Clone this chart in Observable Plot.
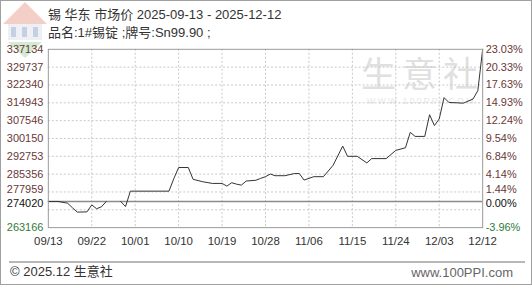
<!DOCTYPE html>
<html><head><meta charset="utf-8">
<script src="https://cdn.jsdelivr.net/npm/d3@7"></script>
<script src="https://cdn.jsdelivr.net/npm/@observablehq/plot@0.6"></script>
<style>
body{margin:0;background:#fff;}
#wrap{position:relative;width:532px;height:285px;overflow:hidden;background:#fff;box-sizing:border-box;border:1px solid #a0a0a0;font-family:"Liberation Sans","Noto Sans CJK SC",sans-serif;}
#wrap svg{position:absolute;left:-1px;top:-1px;}
.t{position:absolute;white-space:nowrap;color:#333;line-height:1.2;}
#title{left:47px;top:6px;font-size:13px;}
#sub{left:47px;top:24px;font-size:13px;}
#sep{position:absolute;left:8px;top:260px;width:516px;height:2px;background:#b8b8b8;}
#foot{left:9px;top:263px;font-size:13px;}
#site{right:18px;top:264px;font-size:13px;color:#666;}
#wm{position:absolute;left:360px;top:53px;font-size:35px;line-height:1;letter-spacing:6px;color:#e0e0e0;font-family:"Noto Sans CJK SC",sans-serif;}
#wm2{position:absolute;left:366px;top:96px;font-size:9px;line-height:1;letter-spacing:2px;color:#e8e8e8;}
#logo{position:absolute;left:295px;top:51px;}
</style></head><body>
<div id="wrap">
  <svg id="logo" width="50" height="60" viewBox="0 0 50 60">
    <polygon points="25,2 47,24 3,24" fill="#f4cfc8"/>
    <rect x="8" y="24" width="34" height="16" fill="#eef0f4"/>
    <rect x="11" y="27" width="5" height="10" fill="#c6d0e4"/>
    <rect x="22" y="27" width="5" height="10" fill="#c6d0e4"/>
    <rect x="33" y="27" width="5" height="10" fill="#c6d0e4"/>
    <polygon points="8,42 42,42 25,58" fill="#d5ead3"/>
  </svg>
  <div id="wm">生意社</div>
  <div id="wm2">WWW.100PPI.COM</div>
  <div class="t" id="title">锡 华东 市场价 2025-09-13 - 2025-12-12</div>
  <div class="t" id="sub">品名:1#锡锭 ;牌号:Sn99.90 ;</div>
  <div id="sep"></div>
  <div class="t" id="foot">© 2025.12 生意社</div>
  <div class="t" id="site">www.100PPI.com</div>
</div>
<script>
// ---- data ----
const dates = ["09-13","09-15","09-17","09-18","09-19","09-21","09-22","09-23","09-24","09-25","09-26",
  "09-28","09-29","09-30","10-08","10-09","10-10","10-12","10-13","10-15","10-17","10-19","10-20",
  "10-21","10-22","10-23","10-24","10-26","10-27","10-28","10-29","10-30","11-01","11-03","11-04",
  "11-05","11-07","11-09","11-11","11-13","11-14","11-16","11-18","11-19","11-22","11-24","11-26",
  "11-27","11-28","11-30","12-01","12-02","12-03","12-04","12-05","12-08","12-10","12-11","12-12"];
const prices = [274020,274020,273300,271400,269600,269700,272600,271000,271800,274000,null,
  274000,271900,278300,278300,283500,288100,288100,283200,282200,281500,281500,280400,
  281800,281200,280800,282500,282800,283600,284300,285400,284700,284700,285600,285600,
  282900,284300,284300,289000,297000,292750,292750,290000,291800,291800,295200,296300,
  302700,301000,301000,310000,305500,308250,317100,315100,314800,316500,320000,337134];
const yTickValues = [337134,329737,322340,314943,307546,300150,292753,285356,277959,274020,263166];
const pctLabels = ["23.03%","20.33%","17.63%","14.93%","12.24%","9.54%","6.84%","4.14%","1.44%","0.00%","-3.96%"];
const gridValues = [329737,322340,314943,307546,300150,292753,285356,277959,270562];
const baseValue = 274020;
const xTickLabels = ["09/13","09/22","10/01","10/10","10/19","10/28","11/06","11/15","11/24","12/03","12/12"];

const parse = s => new Date("2025-" + s + "T00:00:00Z");
const series = dates.map((d, i) => ({date: parse(d), price: prices[i]}));
const xTicks = xTickLabels.map(l => ({date: parse(l.replace("/", "-")), label: l}));
const yTicks = yTickValues.map((v, i) => ({v, label: String(v), pct: pctLabels[i],
  color: v > baseValue ? "#6a3838" : v === baseValue ? "#111111" : "#2f7d3a"}));

const near = 277959;
const labelSet = (filter, dy) => [
  Plot.text(yTicks, {filter, y: "v", text: "label", frameAnchor: "left", textAnchor: "end", dx: -5, dy, fill: "color", fontSize: 11}),
  Plot.text(yTicks, {filter, y: "v", text: "pct", frameAnchor: "right", textAnchor: "start", dx: 3, dy, fill: "color", fontSize: 11})
];

const chart = Plot.plot({
  width: 532, height: 262,
  marginTop: 49, marginBottom: 34, marginLeft: 48, marginRight: 48,
  style: {background: "transparent", fontFamily: "Liberation Sans, sans-serif", fontSize: "11px", overflow: "visible"},
  x: {type: "utc", domain: [parse("09-13"), parse("12-12")], axis: null},
  y: {domain: [263166, 337134], axis: null},
  marks: [
    Plot.ruleY(gridValues, {stroke: "#c8c8c8", strokeDasharray: "2,2"}),
    Plot.ruleX(xTicks.slice(1, -1), {x: "date", stroke: "#c8c8c8", strokeDasharray: "2,2"}),
    Plot.ruleY([baseValue], {stroke: "#8c8c8c", strokeWidth: 1.5}),
    Plot.line(series, {x: "date", y: "price", stroke: "#333", strokeWidth: 1}),
    Plot.frame({stroke: "#9a9a9a"}),
    ...labelSet(d => d.v !== near && d.v !== baseValue, 0),
    ...labelSet(d => d.v === near, -2),
    ...labelSet(d => d.v === baseValue, 2),
    Plot.text(xTicks, {x: "date", text: "label", frameAnchor: "bottom", dy: 17, fill: "#333", fontSize: 11.5})
  ]
});
document.getElementById("wrap").appendChild(chart);
</script>
</body></html>
